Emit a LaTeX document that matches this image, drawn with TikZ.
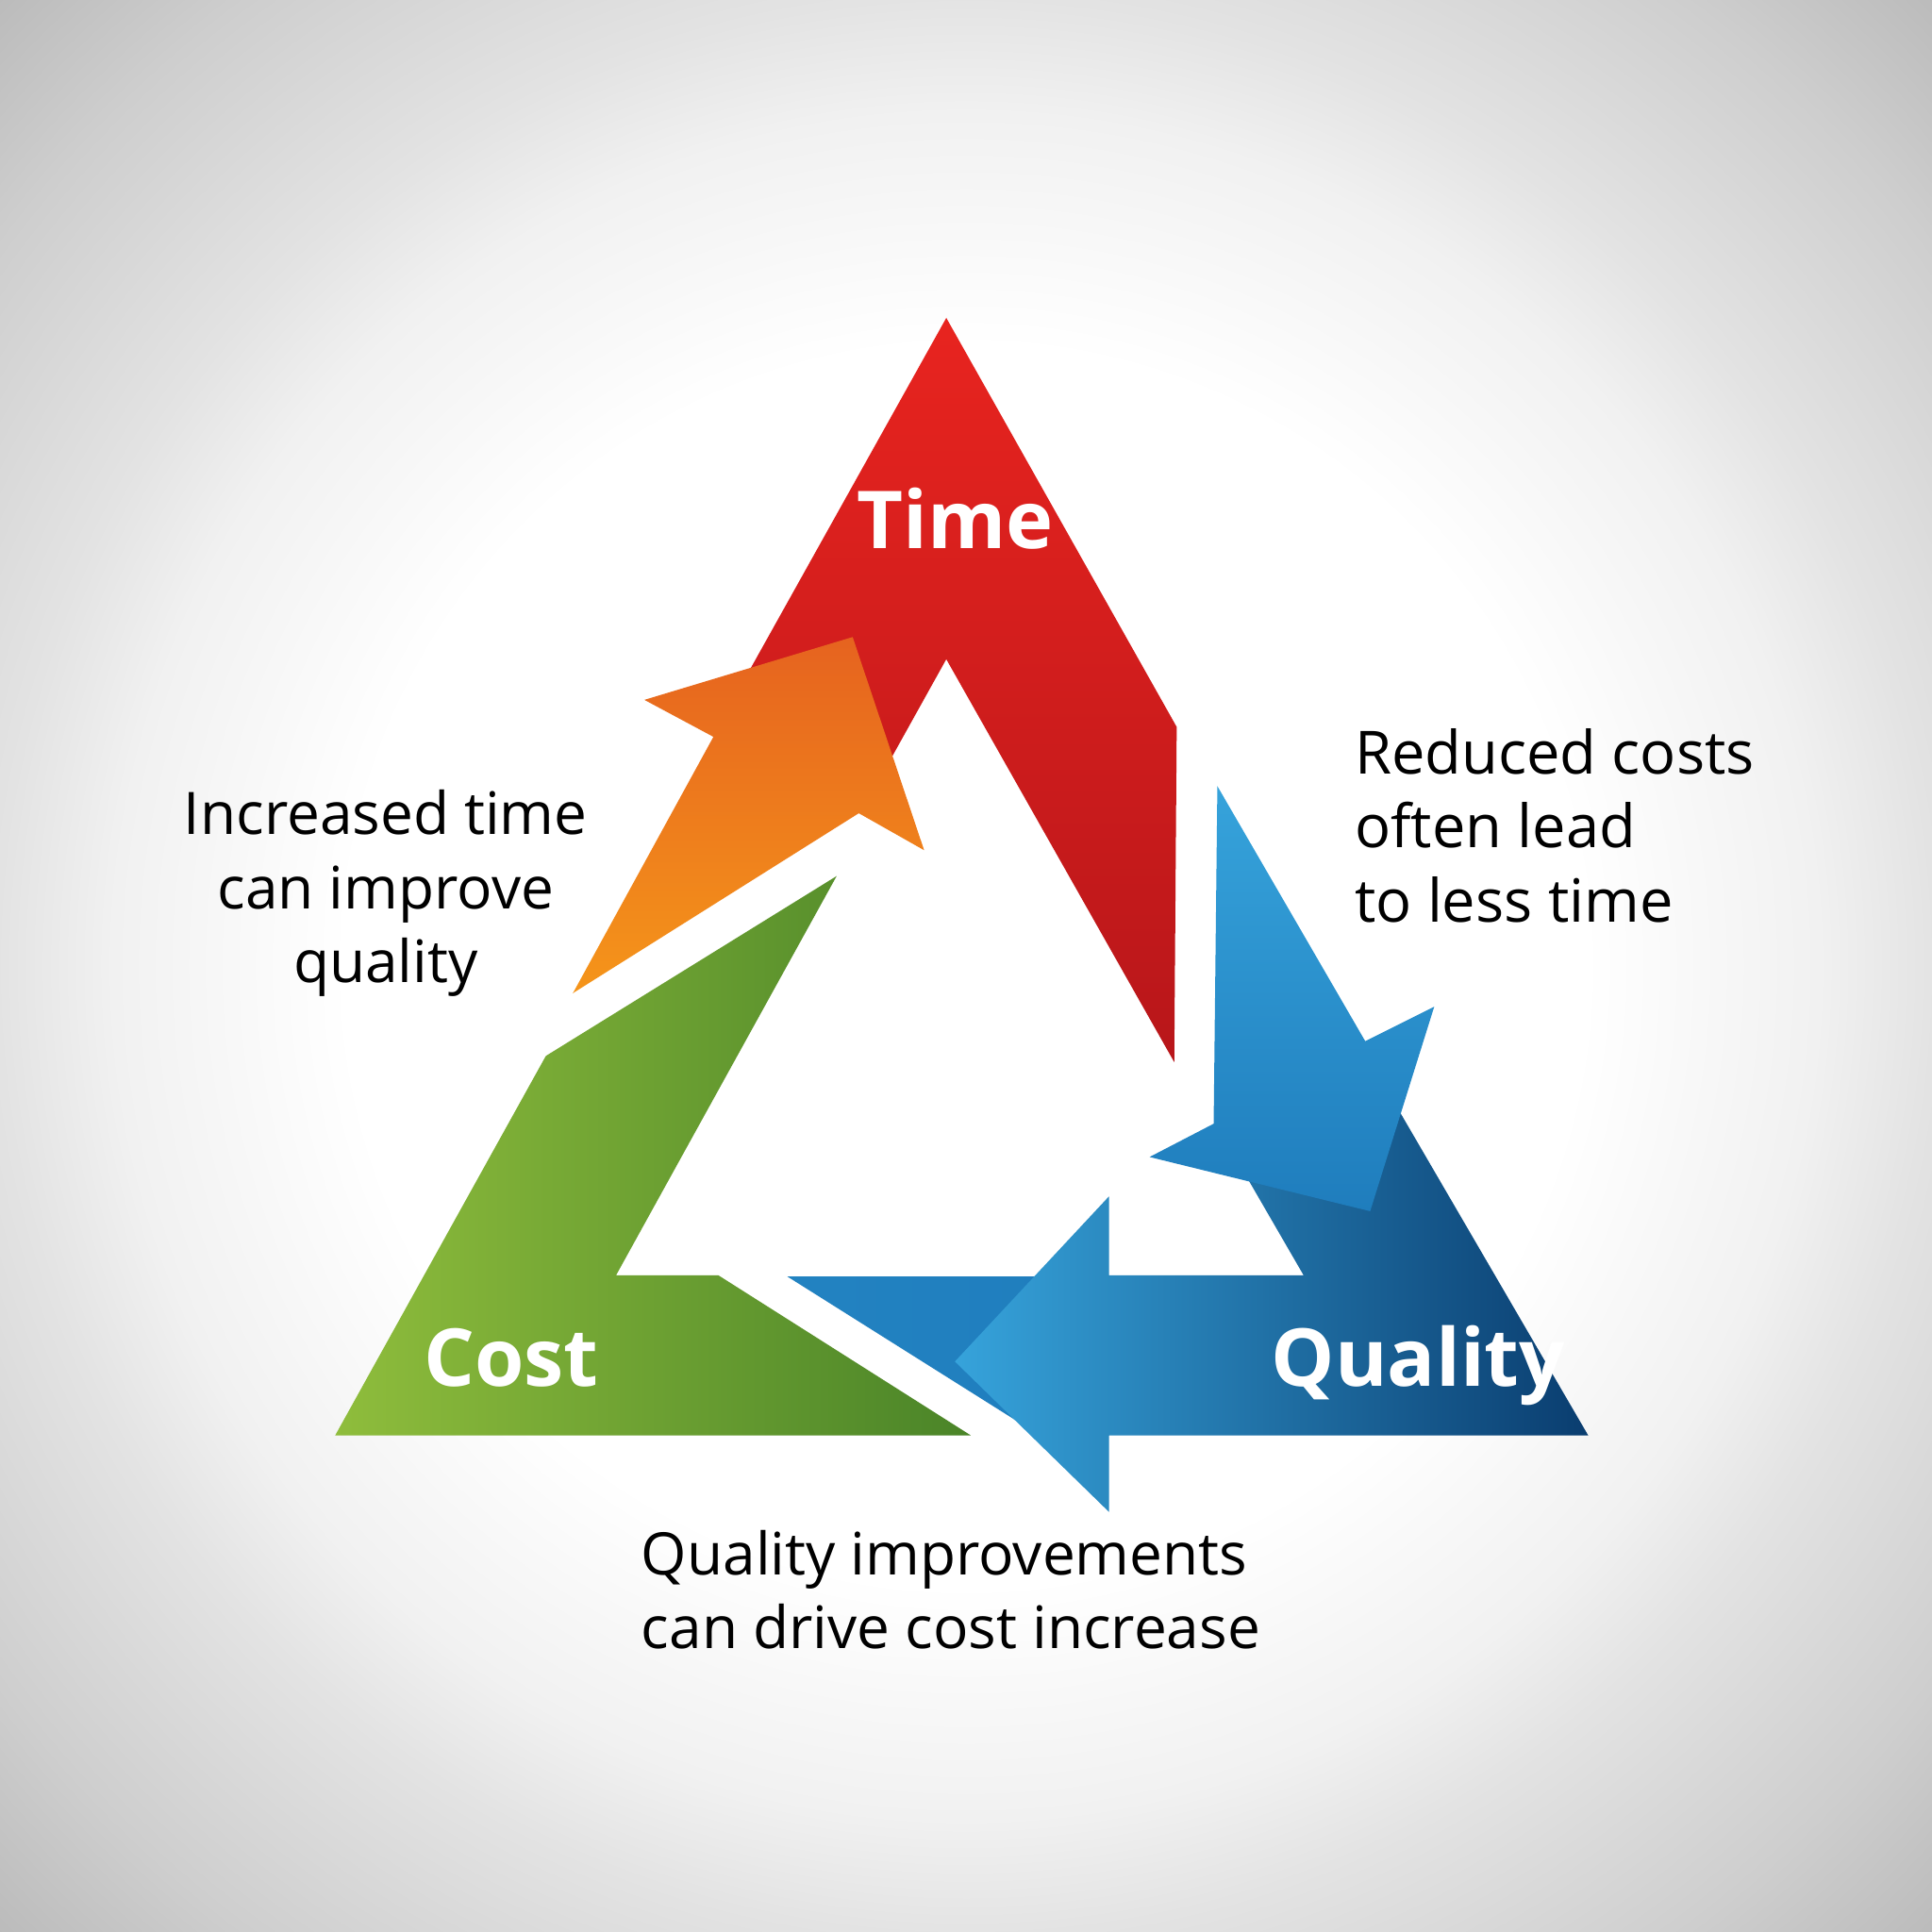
\documentclass[tikz,border=0pt]{standalone}
\usepackage{fontspec}
\setmainfont{Open Sans}
\usetikzlibrary{calc}

\definecolor{timetop}{HTML}{E8241F}
\definecolor{timelow}{HTML}{B8161A}
\definecolor{gaintop}{HTML}{E6631F}
\definecolor{gainlow}{HTML}{F5951A}
\definecolor{costlight}{HTML}{8FBD3C}
\definecolor{costdark}{HTML}{4A8428}
\definecolor{qualight}{HTML}{36A3DB}
\definecolor{quamid}{HTML}{1F7DBD}
\definecolor{quadark}{HTML}{0A3D6F}
\definecolor{bglight}{HTML}{F1F1F1}
\definecolor{bgmid}{HTML}{E3E3E3}
\definecolor{bgfar}{HTML}{CECECE}
\definecolor{bgedge}{HTML}{BABABA}
\pgfdeclareradialshading{vignette}{\pgfpoint{0bp}{0bp}}{color(0bp)=(white); color(185bp)=(white); color(255bp)=(bglight); color(290bp)=(bgmid); color(360bp)=(bgfar); color(412bp)=(bgedge)}

\begin{document}
\begin{tikzpicture}[x=0.013cm, y=-0.013cm, line join = round]
\tikzstyle{arm1}=[top color=timetop, bottom color=timelow]
\tikzstyle{arm2}=[top color=gaintop, bottom color=gainlow]
\tikzstyle{arm3}=[left color=costlight, right color=costdark]
\tikzstyle{arm4}=[top color=qualight, bottom color=quamid]
\tikzstyle{arm5}=[left color=qualight, right color=quadark]
\tikzstyle{arm6}=[left color=quamid!85!qualight, right color=quamid]
\tikzstyle{word}=[text=white, font=\fontsize{24}{28}\selectfont\bfseries, inner sep=0pt, anchor=base]
\tikzstyle{note}=[text=black, font=\fontsize{17.6}{22.2}\selectfont, inner sep=0pt]

\useasboundingbox (0,0) rectangle (1568,1568);
\begin{scope}
\clip (0,0) rectangle (1568,1568);
\node[inner sep=0pt] (backdrop) at (784,784) {\pgfuseshading{vignette}};
\end{scope}

% time arm and the arrow into it
\shade[arm1] (768,258) -- (955,590) -- (953,862) -- (768,535) -- (704,650) -- (591,575) -- cycle;
\shade[arm2] (465,806) -- (579,598) -- (523,568) -- (692,517) -- (750,690) -- (697,660) -- cycle;

% cost arm
\shade[arm3] (272,1165) -- (443,857) -- (679,711) -- (500,1035) -- (583,1035) -- (788,1165) -- cycle;

% quality arm, tail first
\shade[arm6] (639,1036) -- (900,1036) -- (900,1165) -- (828,1155) -- cycle;
\shade[arm5] (1123,880) -- (1289,1165) -- (900,1165) -- (900,1227) -- (775,1105)
  -- (900,971) -- (900,1035) -- (1058,1035) -- (1003,940) -- cycle;
\shade[arm4] (988,638) -- (1108,845) -- (1164,817) -- (1112,983) -- (933,939) -- (985,912) -- cycle;

\node[word] (time) at (775,445) {Time};
\node[word] (cost) at (415,1125) {Cost};
\node[word] (quality) at (1151,1125) {Quality};

\node[note, align=center] (more) at (313,725) {Increased time\\can improve\\quality};
\node[note, align=left, anchor=west, font=\fontsize{17.9}{22.2}\selectfont] (less) at (1099,670) {Reduced costs\\often lead\\to less time};
\node[note, align=left, anchor=west] (drive) at (520,1290) {Quality improvements\\can drive cost increase};
\end{tikzpicture}
\end{document}
